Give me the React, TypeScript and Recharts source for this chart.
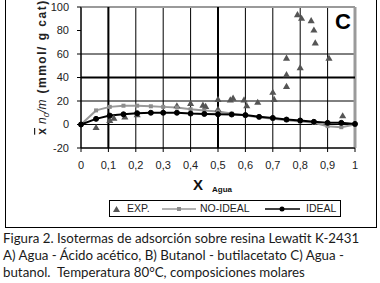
import { ComposedChart, Line, Scatter, XAxis, YAxis, ZAxis, CartesianGrid, Legend, ReferenceLine } from 'recharts';

// Ejes
const xTicks = [0, 0.1, 0.2, 0.3, 0.4, 0.5, 0.6, 0.7, 0.8, 0.9, 1];
const yTicks = [-20, 0, 20, 40, 60, 80, 100];

// Modelos (misma malla de composiciones)
const modelX = [0, 0.055, 0.105, 0.155, 0.205, 0.255, 0.3, 0.35, 0.4, 0.45, 0.5, 0.55, 0.6, 0.65, 0.7, 0.75, 0.8, 0.85, 0.9, 0.95, 1];
const noIdealY = [0, 12, 15, 16, 16, 15.5, 15, 14.5, 13, 12, 11, 9.3, 7.6, 6.2, 4.8, 3.7, 2.5, 1.4, -1.4, -2.3, 0];
const idealY = [0, 4.8, 7.6, 8.7, 9.6, 10, 10, 10, 9.3, 9, 8.7, 8.5, 8, 6.5, 5.6, 4.2, 3.4, 2.3, 1.4, 1.4, 0.5];

// Datos experimentales
const expX = [0.055, 0.105, 0.12, 0.16, 0.205, 0.35, 0.4, 0.445, 0.455, 0.5, 0.5, 0.545, 0.555, 0.595, 0.605, 0.645, 0.7, 0.705, 0.75, 0.75, 0.75, 0.79, 0.805, 0.8, 0.84, 0.85, 0.855, 0.905, 0.955];
const expY = [-3, 3, 5, 6, 8, 15.5, 17.5, 16, 15, 21, 12.5, 20.5, 22, 20.5, 15.5, 18.5, 27, 21, 56, 42, 32, 93, 90, 48, 88, 80, 69, 56, 7];

const noIdealData = modelX.map((x, i) => ({ x, y: noIdealY[i] }));
const idealData = modelX.map((x, i) => ({ x, y: idealY[i] }));
const expData = expX.map((x, i) => ({ x, y: expY[i] }));

const fmt = (v: number) => (Number.isInteger(v) ? String(v) : v.toFixed(1).replace('.', ','));

const tickStyle = { fontFamily: 'Liberation Sans, Arial, sans-serif', fontSize: 11, fill: '#222' };

function LegendBox() {
  return (
    <div style={{ position: 'relative', width: 230, height: 15, border: '1px solid #000', fontFamily: 'Liberation Sans, Arial, sans-serif', fontSize: 10.5, lineHeight: '13px', color: '#222', background: '#fff' }}>
      <svg width={230} height={15} style={{ position: 'absolute', left: 0, top: 0 }}>
        <polygon points="3,11 10,11 6.5,5" fill="#555" />
        <line x1={52} y1={8} x2={86} y2={8} stroke="#999" strokeWidth={1.5} />
        <rect x={67} y={6} width={4} height={4} fill="#8c8c8c" />
        <line x1={155} y1={8} x2={190} y2={8} stroke="#000" strokeWidth={1.5} />
        <circle cx={172} cy={8} r={2.5} fill="#000" />
      </svg>
      <span style={{ position: 'absolute', left: 17, top: 1 }}>EXP.</span>
      <span style={{ position: 'absolute', left: 90, top: 1 }}>NO-IDEAL</span>
      <span style={{ position: 'absolute', left: 196, top: 1 }}>IDEAL</span>
    </div>
  );
}

const YLabel = () => (
  <text x={46} y={67} transform="rotate(-90 46 67)" textAnchor="middle" fontFamily="Liberation Sans, Arial, sans-serif" fontSize={12} fontWeight="bold" fill="#222">
    <tspan textDecoration="overline">x</tspan>
    <tspan dx={4} fontStyle="italic" fontWeight="normal">n</tspan>
    <tspan fontSize={8} dy={3} fontStyle="italic" fontWeight="normal">0</tspan>
    <tspan dy={-3} fontStyle="italic" fontWeight="normal">/m</tspan>
    <tspan dx={6} letterSpacing={1.5}>(mmol/ g cat)</tspan>
  </text>
);

const XLabel = () => (
  <text x={193} y={190} fontFamily="Liberation Sans, Arial, sans-serif" fontWeight="bold" fill="#111">
    <tspan fontSize={15}>X</tspan>
    <tspan dx={9} dy={2} fontSize={8}>Agua</tspan>
  </text>
);

export default function App() {
  return (
    <div style={{ position: 'absolute', left: 0, top: 0, width: 380, height: 283, background: '#fff', overflow: 'hidden' }}>
      <div style={{ position: 'absolute', left: 5, top: -2, width: 370, height: 228, border: '1px solid #000' }} />
      <div style={{ position: 'absolute', left: 0, top: 0 }}>
        <ComposedChart width={380} height={228} margin={{ top: 7, right: 25, left: 0, bottom: 50 }}>
          <CartesianGrid stroke="#000" strokeWidth={1} />
          <XAxis
            type="number"
            dataKey="x"
            domain={[0, 1]}
            ticks={xTicks}
            tickFormatter={fmt}
            tick={tickStyle}
            tickSize={4}
            tickMargin={9}
            axisLine={{ stroke: '#000' }}
            tickLine={{ stroke: '#000' }}
            height={30}
            label={<XLabel />}
          />
          <YAxis
            type="number"
            domain={[-20, 100]}
            ticks={yTicks}
            tick={tickStyle}
            tickSize={4}
            tickMargin={8}
            axisLine={{ stroke: '#000' }}
            tickLine={{ stroke: '#000' }}
            width={81}
            label={<YLabel />}
          />
          <ZAxis range={[22, 22]} />
          <ReferenceLine y={100} stroke="#9a9a9a" strokeWidth={2} />
          <ReferenceLine x={1} stroke="#9a9a9a" strokeWidth={3} />
          <ReferenceLine x={0.1} stroke="#000" strokeWidth={2} />
          <ReferenceLine x={0.5} stroke="#000" strokeWidth={2} />
          <ReferenceLine y={40} stroke="#000" strokeWidth={2} />
          <Scatter name="EXP." data={expData} dataKey="y" fill="#555" shape="triangle" isAnimationActive={false} />
          <Line
            name="NO-IDEAL"
            data={noIdealData}
            dataKey="y"
            stroke="#9a9a9a"
            strokeWidth={2}
            dot={(p: any) => <rect key={`g${p.index}`} x={p.cx - 2} y={p.cy - 2} width={4} height={4} fill="#8c8c8c" />}
            isAnimationActive={false}
          />
          <Line
            name="IDEAL"
            data={idealData}
            dataKey="y"
            stroke="#000"
            strokeWidth={2}
            dot={{ r: 2.5, fill: '#000', stroke: '#000', strokeWidth: 1 }}
            isAnimationActive={false}
          />
          <Legend
            layout="horizontal"
            verticalAlign="middle"
            content={() => <LegendBox />}
            wrapperStyle={{ position: 'absolute', left: 109, top: 200, width: 232, height: 17 }}
          />
        </ComposedChart>
      </div>
      <div style={{ position: 'absolute', left: 335, top: 11, fontFamily: 'Liberation Sans, Arial, sans-serif', fontWeight: 'bold', fontSize: 22, lineHeight: 1, color: '#000' }}>C</div>
      <div style={{ position: 'absolute', left: 3, top: 230, width: 377, fontFamily: 'Lato, sans-serif', fontSize: 13.3, lineHeight: '17px', color: '#1a1a1a', whiteSpace: 'nowrap' }}>
        <div>Figura 2. Isotermas de adsorción sobre resina Lewatit K-2431</div>
        <div>A) Agua - Ácido acético, B) Butanol - butilacetato C) Agua -</div>
        <div>butanol.&nbsp; Temperatura 80°C, composiciones molares</div>
      </div>
    </div>
  );
}
